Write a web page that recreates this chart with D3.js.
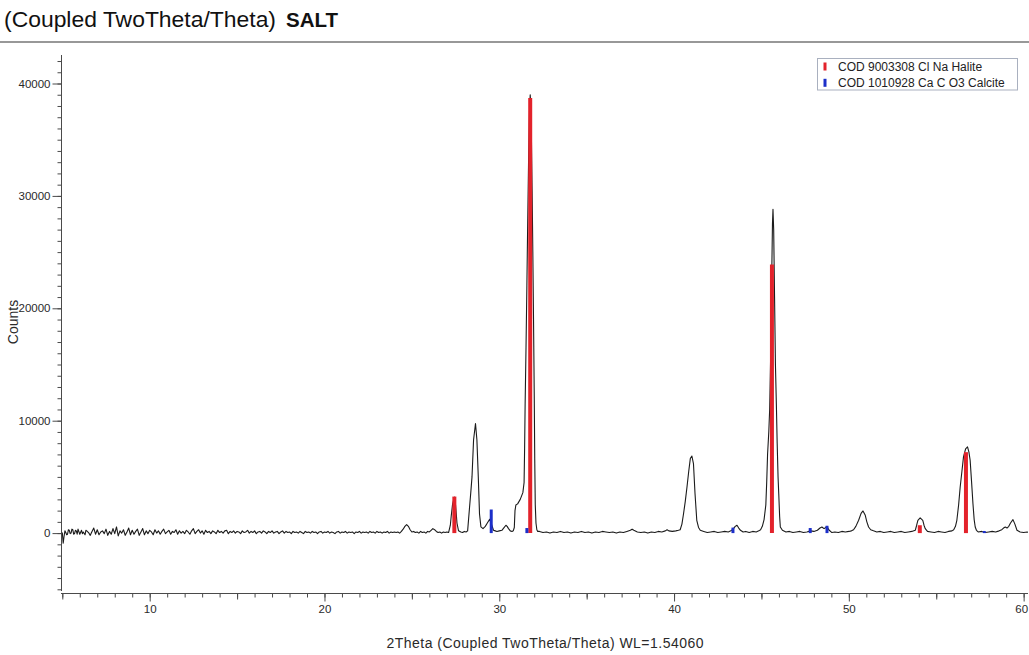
<!DOCTYPE html>
<html>
<head>
<meta charset="utf-8">
<script src="https://cdn.jsdelivr.net/npm/d3@7"></script>
<style>
  html, body { margin: 0; padding: 0; background: #fff; }
  svg { display: block; font-family: "Liberation Sans", Arial, Helvetica, sans-serif; }
</style>
</head>
<body>
<svg id="chart" width="1029" height="655"></svg>
<script>
// Measured scan: [2theta (deg), counts]
const scanLowAngle = [
  [5.0,50],[5.05,-900],[5.1,-300],[5.15,200],[5.2,50],[5.25,-150],[5.3,-100],[5.35,300],[5.4,250],[5.45,-50],[5.5,0],[5.55,350],[5.6,300],[5.65,-100],[5.7,-50],[5.75,250],[5.8,200],
  [5.85,-100],[5.9,350],[6.0,-100],[6.1,250],[6.15,-50],[6.2,100],[6.3,-150],[6.35,250],[6.4,200],[6.5,50],[6.6,-200],[6.7,150],[6.8,450],
  [6.9,-100],[7.0,300],[7.1,-150],[7.2,100],[7.3,200],[7.4,-50],[7.5,350],[7.6,-200],[7.7,150],[7.8,-100],
  [7.9,400],[8.0,-50],[8.1,550],[8.2,-250],[8.3,200],[8.4,0],[8.5,300],[8.6,-200],[8.7,100],[8.8,450],
  [8.9,-150],[9.0,250],[9.1,-100],[9.2,150],[9.3,350],[9.4,-200],[9.5,100],[9.6,400],[9.7,-150],[9.8,200],
  [9.9,-50],[10.0,250],[10.1,100],[10.2,-150],[10.3,300],[10.4,0],[10.5,200],[10.6,-100],[10.7,150],[10.8,350],
  [10.9,-50],[11.0,100],[11.1,250],[11.2,-100],[11.3,150],[11.4,50],[11.5,300],[11.6,-100],[11.7,200],[11.8,0],
  [11.9,150],[12.0,-50],[12.1,250],[12.2,100],[12.3,-100],[12.4,200],[12.5,400],[12.6,-50],[12.7,150],[12.8,300],
  [12.9,0],[13.0,200],[13.1,-100],[13.2,250],[13.3,50],[13.4,150],[13.5,-50],[13.6,200],[13.7,100],[13.8,-50],
  [13.9,250],[14.0,50],[14.1,150],[14.2,0],[14.3,200],[14.4,250],[14.5,-50],[14.6,150],[14.7,50],[14.8,200],
  [14.9,0],[15.0,150],[15.1,100],[15.2,-50],[15.3,200],[15.4,50],[15.5,100],[15.6,250],[15.7,0],[15.8,150],
  [15.9,50],[16.0,200],[16.1,-50],[16.2,100],[16.3,150],[16.4,0],[16.5,200],[16.6,100],[16.7,-50],[16.8,150],
  [16.9,50],[17.0,200],[17.1,0],[17.2,100],[17.3,150],[17.4,-50],[17.5,100],[17.6,200],[17.7,0],[17.8,150],
  [17.9,50],[18.0,100],[18.1,-50],[18.2,150],[18.3,50],[18.4,100],[18.5,0],[18.6,150],[18.7,50],[18.8,-50],
  [18.9,150],[19.0,50],[19.1,100],[19.2,0],[19.3,150],[19.4,50],[19.5,100],[19.6,-50],[19.7,100],[19.8,150],
  [19.9,0],[20.0,100],[20.1,50],[20.2,150],[20.3,0],[20.4,100],[20.5,50],[20.6,-50],[20.7,100],[20.8,150],
  [20.9,0],[21.0,100],[21.1,50],[21.2,150],[21.3,0],[21.4,100],[21.5,50],[21.6,100],[21.7,-50],[21.8,100],
  [21.9,50],[22.0,150],[22.1,0],[22.2,100],[22.3,50],[22.4,100],[22.5,0],[22.6,150],[22.7,50],[22.8,100],
  [22.9,0],[23.0,150],[23.1,50],[23.2,100],[23.3,0],[23.4,100],[23.5,50],[23.6,150],[23.7,0],[23.8,100],
  [23.9,50],[24.0,100],[24.1,50],[24.2,100],[24.3,0],[24.4,150],[24.5,350],[24.6,600],[24.7,760],[24.8,600],
  [24.9,300],[25.0,100],[25.1,150],[25.2,50],[25.3,100],[25.4,0],[25.5,150],[25.6,50],[25.7,100],[25.8,0],
  [25.9,150],[26.0,100],[26.1,250],[26.2,400],[26.3,300],[26.4,150],[26.5,50],[26.6,100],[26.7,0],[26.8,100],
  [26.9,50],[27.0,100],[27.1,50]
];

const scanMidAngle = [
  [27.2,700],[27.25,1500],[27.33,2600],[27.43,3200],[27.5,2500],[27.58,900],[27.67,200],[27.8,100],[27.9,50],
  [28.0,150],[28.1,100],[28.19,200],[28.3,2300],[28.38,3800],[28.44,5000],[28.53,8300],[28.64,9750],[28.72,8300],
  [28.8,5000],[28.87,1700],[28.95,550],[29.07,400],[29.2,600],[29.3,850],[29.45,1230],[29.54,850],[29.67,250],
  [29.77,200],[29.87,150],[30.0,200],[30.15,250],[30.25,450],[30.38,700],[30.45,600],[30.53,400],[30.63,200],
  [30.73,150],[30.8,200],[30.86,500],[30.9,2000],[30.95,2500],[31.05,2600],[31.2,3000],[31.35,3600],[31.42,4500],
  [31.45,7500],[31.48,11500],[31.53,16500],[31.58,22000],[31.63,28000],[31.68,33500],[31.73,37500],[31.77,39000],
  [31.8,38200],[31.84,35000],[31.88,30500],[31.92,25000],[31.96,19000],[32.0,12500],[32.03,6500],[32.06,2500],
  [32.1,900],[32.15,300],[32.2,150],
  [32.3,150],[32.5,50],[32.7,100],[32.9,0],[33.1,100],[33.3,50],[33.5,150],[33.7,50],[33.9,100],[34.1,0],
  [34.3,100],[34.5,50],[34.7,150],[34.9,50],[35.1,100],[35.3,0],[35.5,100],[35.7,50],[35.9,150],[36.1,100],
  [36.3,50],[36.5,100],[36.7,0],[36.9,100],[37.1,50],[37.3,150],[37.5,250],[37.6,350],[37.7,250],[37.9,100],
  [38.1,50],[38.3,100],[38.5,0],[38.7,100],[38.9,50],[39.1,150],[39.3,100],[39.5,200],[39.6,300],[39.7,200],
  [39.9,150],[40.1,200],[40.25,250],[40.35,300],[40.45,800],[40.54,1700],[40.64,2800],[40.74,4100],[40.84,5500],
  [40.93,6630],[41.02,6860],[41.11,6190],[41.2,3500],[41.3,1140],[41.4,500],[41.5,250],[41.7,150],[41.9,50],
  [42.1,100],[42.3,150],[42.5,50],[42.7,100],[42.9,150],[43.1,100],[43.25,200],[43.4,400],[43.5,600],[43.6,700],
  [43.7,450],[43.8,250],[43.95,100],[44.1,150],[44.3,50],[44.5,150],[44.7,100],[44.85,200]
];

const scanHighAngle = [
  [44.95,300],[45.05,600],[45.15,1200],[45.25,2500],[45.3,4500],[45.35,7000],[45.42,9000],[45.47,11000],
  [45.53,16000],[45.58,22000],[45.63,27500],[45.66,28800],[45.7,27000],[45.75,21000],[45.8,15000],[45.86,11000],
  [45.9,8000],[45.95,5000],[45.99,3500],[46.04,1500],[46.08,550],[46.2,250],[46.4,100],[46.6,150],[46.8,50],
  [47.0,100],[47.2,150],[47.4,50],[47.6,100],[47.8,200],[48.0,150],[48.2,250],[48.35,450],[48.46,540],[48.58,400],
  [48.68,500],[48.75,600],[48.85,300],[49.03,50],[49.2,100],[49.4,50],[49.6,150],[49.8,100],[50.0,150],[50.15,200],
  [50.27,300],[50.4,600],[50.56,1140],[50.7,1750],[50.81,1970],[50.94,1580],[51.03,1000],[51.13,540],[51.25,300],
  [51.41,200],[51.6,100],[51.8,150],[52.0,50],[52.2,100],[52.4,150],[52.6,50],[52.8,100],[53.0,150],[53.2,50],
  [53.4,100],[53.6,150],[53.8,250],[53.88,700],[53.95,1140],[54.08,1350],[54.23,1140],[54.3,700],[54.37,400],
  [54.5,150],[54.7,100],[54.9,50],[55.1,150],[55.3,100],[55.5,50],[55.7,150],[55.9,200],[56.0,300],[56.1,600],
  [56.18,1140],[56.28,2500],[56.37,4100],[56.47,5500],[56.56,6780],[56.68,7500],[56.79,7670],[56.87,7200],
  [56.94,6480],[57.02,4600],[57.1,2630],[57.17,1200],[57.23,540],[57.3,250],[57.4,100],[57.6,150],[57.8,50],
  [58.0,100],[58.2,150],[58.4,100],[58.6,200],[58.75,300],[58.85,450],[58.95,540],[59.05,450],[59.15,600],
  [59.25,900],[59.39,1200],[59.5,800],[59.62,250],[59.8,100],[60.0,50],[60.2,100],[60.25,80]
];

// Reference patterns: [2theta, counts]
const haliteSticks = [[27.43,3250],[31.77,38700],[45.6,23900],[54.06,700],[56.7,7200]];
const calciteSticks = [[29.54,2100],[31.58,450],[43.37,490],[47.79,450],[48.75,650],[57.75,190]];

const legendLabels = ["COD 9003308 Cl Na Halite", "COD 1010928 Ca C O3 Calcite"];
const legendColors = ["#e3222b", "#1c2fc9"];

const xMajorTicks = [10, 20, 30, 40, 50, 60];
const yMajorTicks = [0, 10000, 20000, 30000, 40000];

const titleText = "(Coupled TwoTheta/Theta)";
const sampleName = "SALT";
const xTitle = "2Theta (Coupled TwoTheta/Theta) WL=1.54060";
const yTitle = "Counts";

const svg = d3.select("#chart");
const axisColor = "#4a4a4a";
const textColor = "#2a2a2a";

const x = d3.scaleLinear().domain([5, 60.25]).range([62.3, 1028]);
const y = d3.scaleLinear().domain([-5000, 40000]).range([589.3, 83.5]);
const axisX = 61.5, axisY = 593.5;

// Header
svg.append("text").attr("x", 4).attr("y", 27)
  .attr("font-size", 22.5).attr("fill", "#111")
  .attr("textLength", 272).attr("lengthAdjust", "spacingAndGlyphs")
  .text(titleText);
svg.append("text").attr("x", 286).attr("y", 27)
  .attr("font-size", 20.5).attr("font-weight", "bold").attr("fill", "#111")
  .text(sampleName);
svg.append("line").attr("x1", 0).attr("x2", 1029).attr("y1", 42).attr("y2", 42)
  .attr("stroke", "#333").attr("stroke-width", 1.2);

// Y axis
const yMinor = svg.append("g").attr("transform", `translate(${axisX},0)`)
  .call(d3.axisLeft(y).tickValues(d3.range(-5000, 42001, 1000)).tickSize(4).tickFormat(""));
yMinor.select(".domain").remove();
const yMajor = svg.append("g").attr("transform", `translate(${axisX},0)`)
  .call(d3.axisLeft(y).tickValues(yMajorTicks).tickSize(9).tickPadding(2).tickFormat(d3.format("d")));
yMajor.select(".domain").remove();
svg.append("line").attr("x1", axisX).attr("x2", axisX).attr("y1", 55).attr("y2", 591)
  .attr("stroke", axisColor);

// X axis
const xMinor = svg.append("g").attr("transform", `translate(0,${axisY})`)
  .call(d3.axisBottom(x).tickValues(d3.range(5, 60.5, 1)).tickSize(4).tickFormat(""));
xMinor.select(".domain").remove();
const xHalf = svg.append("g").attr("transform", `translate(0,${axisY})`)
  .call(d3.axisBottom(x).tickValues(d3.range(5, 60, 10)).tickSize(6).tickFormat(""));
xHalf.select(".domain").remove();
const xMajor = svg.append("g").attr("transform", `translate(0,${axisY})`)
  .call(d3.axisBottom(x).tickValues(xMajorTicks).tickSize(8).tickPadding(3).tickFormat(d3.format("d")));
xMajor.select(".domain").remove();
svg.append("line").attr("x1", 61).attr("x2", 1028).attr("y1", axisY).attr("y2", axisY)
  .attr("stroke", axisColor);

svg.selectAll(".tick line").attr("stroke", axisColor);
svg.selectAll(".tick text").attr("font-size", 11.5).attr("fill", textColor)
  .attr("font-family", "'Liberation Sans', Arial, sans-serif");
// keep the last x label inside the frame
xMajor.selectAll(".tick text").filter(d => d === 60).attr("text-anchor", "end").attr("x", 4);

// Axis titles
svg.append("text").attr("x", 545).attr("y", 648).attr("text-anchor", "middle")
  .attr("font-size", 14).attr("fill", textColor)
  .attr("textLength", 317).attr("lengthAdjust", "spacing")
  .text(xTitle);
svg.append("text").attr("transform", "translate(18,322) rotate(-90)")
  .attr("text-anchor", "middle").attr("font-size", 14).attr("fill", textColor)
  .text(yTitle);

// Diffraction pattern
const scan = scanLowAngle.concat(scanMidAngle, scanHighAngle);
const line = d3.line().x(d => x(d[0])).y(d => y(d[1]));
svg.append("path").datum(scan).attr("d", line)
  .attr("fill", "none").attr("stroke", "#1b1b1b").attr("stroke-width", 1.1)
  .attr("stroke-linejoin", "round");

// Phase sticks
svg.append("g").selectAll("line").data(haliteSticks).join("line")
  .attr("x1", d => x(d[0])).attr("x2", d => x(d[0]))
  .attr("y1", y(0)).attr("y2", d => y(d[1]))
  .attr("stroke", legendColors[0]).attr("stroke-width", 4);
svg.append("g").selectAll("line").data(calciteSticks).join("line")
  .attr("x1", d => x(d[0])).attr("x2", d => x(d[0]))
  .attr("y1", y(0)).attr("y2", d => y(d[1]))
  .attr("stroke", legendColors[1]).attr("stroke-width", 3);

// Legend
const legend = svg.append("g");
legend.append("rect").attr("x", 817.5).attr("y", 58.5).attr("width", 200).attr("height", 31.5)
  .attr("fill", "#fff").attr("stroke", "#a9b0bf").attr("stroke-width", 1);
legendLabels.forEach((lab, i) => {
  const cy = 66.5 + i * 16.3;
  legend.append("rect").attr("x", 823.5).attr("y", cy - 4).attr("width", 3).attr("height", 8)
    .attr("fill", legendColors[i]);
  legend.append("text").attr("x", 838).attr("y", cy + 4.2)
    .attr("font-size", 12).attr("fill", "#222").text(lab);
});
</script>
</body>
</html>
